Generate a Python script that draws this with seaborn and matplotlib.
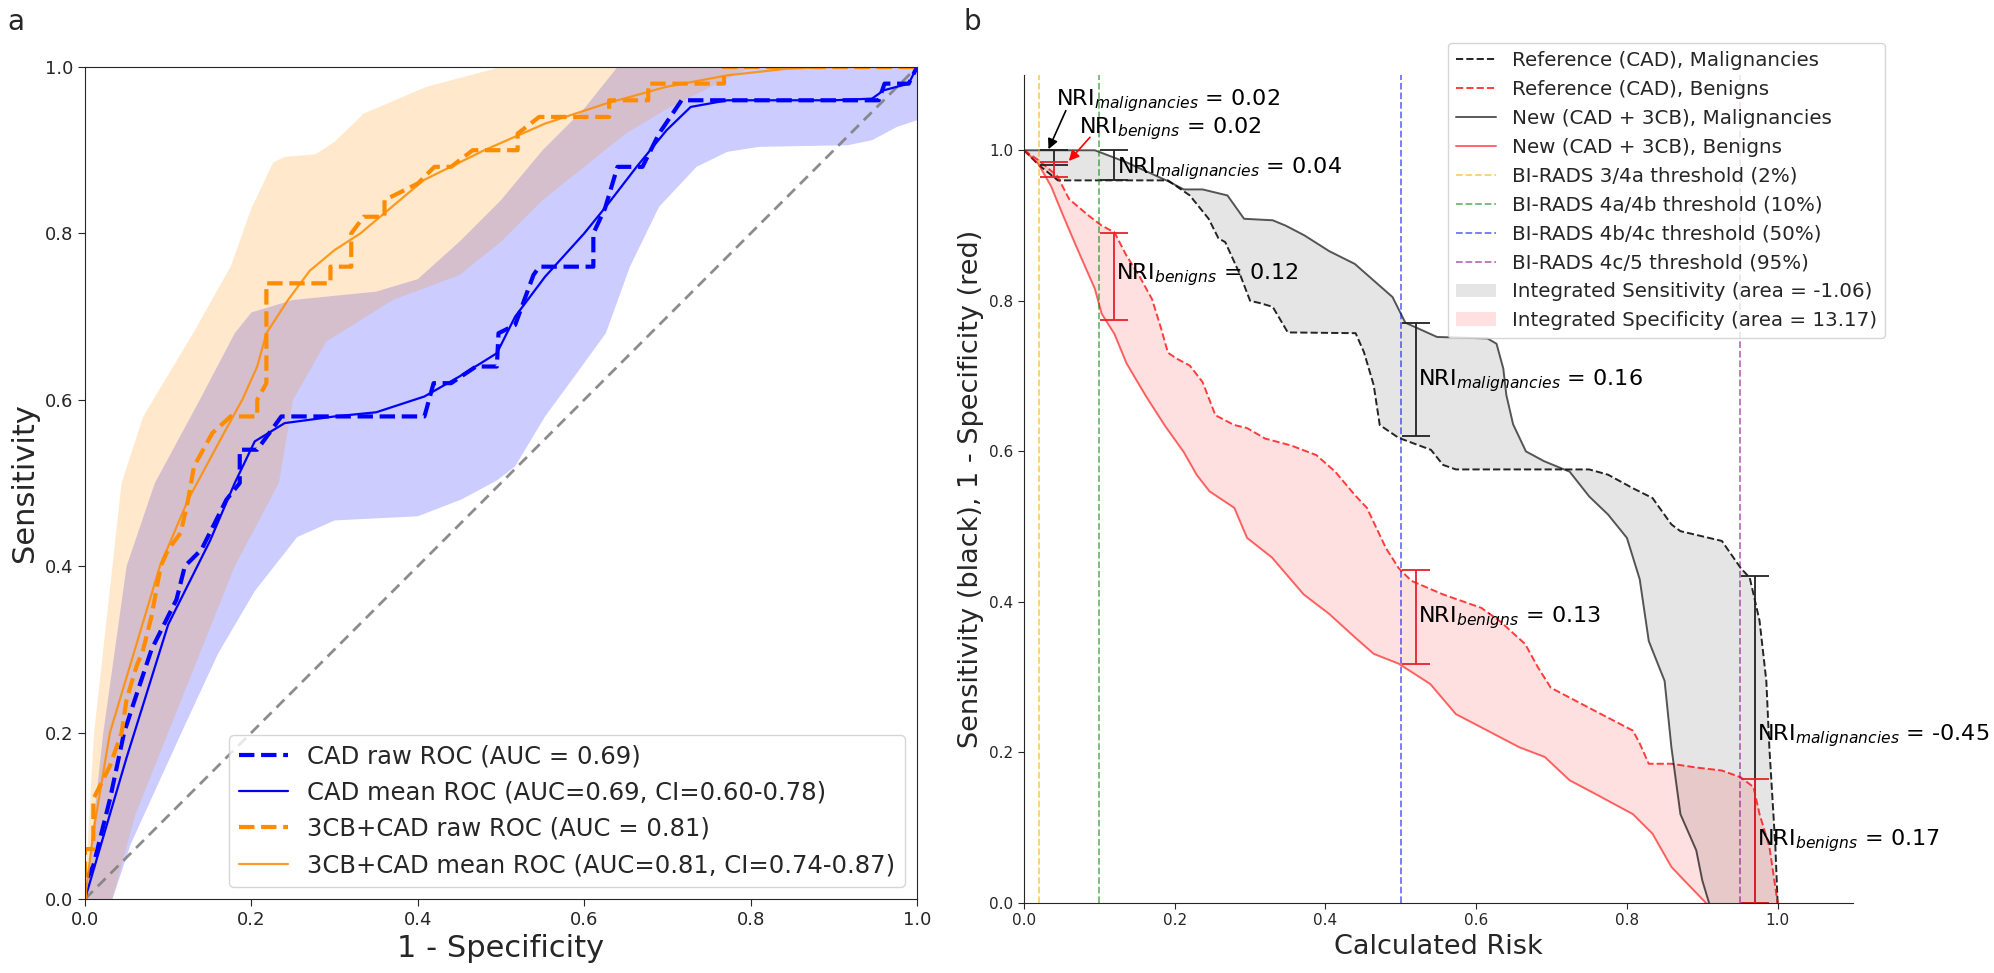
import numpy as np
import matplotlib
matplotlib.use("Agg")
import matplotlib.pyplot as plt
import seaborn as sns

# ---------------- Panel a data (FPR, TPR) ----------------
cad_raw = [(0, 0), (0, 0.02), (0.01, 0.04), (0.02, 0.08), (0.03, 0.12), (0.047, 0.2), (0.06, 0.24),
           (0.08, 0.3), (0.09, 0.32), (0.11, 0.36), (0.12, 0.4), (0.14, 0.42), (0.15, 0.44),
           (0.17, 0.48), (0.186, 0.5), (0.186, 0.54), (0.207, 0.54), (0.236, 0.58), (0.408, 0.58),
           (0.419, 0.62), (0.44, 0.62), (0.47, 0.64), (0.495, 0.64), (0.497, 0.68), (0.517, 0.69),
           (0.539, 0.75), (0.546, 0.76), (0.611, 0.76), (0.611, 0.80), (0.625, 0.83), (0.64, 0.88),
           (0.67, 0.88), (0.69, 0.92), (0.717, 0.96), (0.954, 0.96), (0.961, 0.98), (0.99, 0.98),
           (1.0, 1.0)]
cad_mean = [(0, 0), (0.05, 0.17), (0.1, 0.33), (0.15, 0.43), (0.18, 0.5), (0.204, 0.55), (0.24, 0.572),
            (0.3, 0.58), (0.35, 0.585), (0.408, 0.604), (0.45, 0.628), (0.495, 0.656), (0.517, 0.70),
            (0.553, 0.748), (0.6, 0.80), (0.626, 0.832), (0.663, 0.88), (0.699, 0.924), (0.728, 0.952),
            (0.772, 0.96), (0.9, 0.96), (0.946, 0.962), (0.96, 0.972), (0.99, 0.98), (1.0, 1.0)]
cad_upper = [(0, 0), (0.011, 0.1), (0.022, 0.2), (0.05, 0.4), (0.084, 0.5), (0.138, 0.6), (0.18, 0.68),
             (0.2, 0.705), (0.25, 0.72), (0.35, 0.73), (0.4, 0.745), (0.45, 0.79), (0.5, 0.84),
             (0.55, 0.9), (0.6, 0.95), (0.64, 1.0), (1.0, 1.0)]
cad_lower = [(0.033, 0), (0.055, 0.066), (0.116, 0.2), (0.16, 0.295), (0.204, 0.37), (0.255, 0.435),
             (0.3, 0.455), (0.4, 0.46), (0.452, 0.48), (0.495, 0.503), (0.517, 0.52), (0.553, 0.58),
             (0.597, 0.64), (0.626, 0.68), (0.655, 0.76), (0.69, 0.832), (0.735, 0.88), (0.772, 0.898),
             (0.81, 0.904), (0.917, 0.906), (0.946, 0.912), (0.976, 0.928), (1.0, 0.936)]

cb_raw = [(0, 0), (0, 0.06), (0.01, 0.06), (0.01, 0.12), (0.02, 0.14), (0.03, 0.16), (0.044, 0.2),
          (0.05, 0.24), (0.062, 0.28), (0.07, 0.3), (0.08, 0.34), (0.091, 0.4), (0.1, 0.42),
          (0.115, 0.44), (0.124, 0.48), (0.131, 0.52), (0.153, 0.56), (0.175, 0.58), (0.207, 0.58),
          (0.207, 0.6), (0.218, 0.62), (0.218, 0.74), (0.295, 0.74), (0.295, 0.76), (0.32, 0.76),
          (0.32, 0.8), (0.335, 0.82), (0.36, 0.82), (0.36, 0.84), (0.4, 0.86), (0.42, 0.88),
          (0.44, 0.88), (0.466, 0.9), (0.52, 0.9), (0.52, 0.92), (0.546, 0.94), (0.63, 0.94),
          (0.63, 0.96), (0.677, 0.96), (0.677, 0.98), (0.768, 0.98), (0.768, 1.0), (1.0, 1.0)]
cb_mean = [(0, 0), (0.01, 0.08), (0.03, 0.2), (0.06, 0.3), (0.09, 0.4), (0.124, 0.48), (0.167, 0.56),
           (0.189, 0.6), (0.207, 0.64), (0.218, 0.68), (0.244, 0.72), (0.27, 0.755), (0.3, 0.78),
           (0.331, 0.8), (0.407, 0.864), (0.48, 0.9), (0.553, 0.932), (0.626, 0.956), (0.698, 0.976),
           (0.772, 0.99), (0.844, 0.998), (0.9, 1.0), (1.0, 1.0)]
cb_upper = [(0, 0), (0.005, 0.1), (0.011, 0.2), (0.022, 0.3), (0.033, 0.4), (0.044, 0.5), (0.07, 0.58),
            (0.1, 0.63), (0.13, 0.68), (0.175, 0.76), (0.2, 0.83), (0.226, 0.885), (0.24, 0.892),
            (0.277, 0.895), (0.3, 0.91), (0.335, 0.944), (0.41, 0.976), (0.5, 1.0), (1.0, 1.0)]
cb_lower = [(0.033, 0), (0.06, 0.1), (0.1, 0.2), (0.14, 0.3), (0.18, 0.4), (0.233, 0.5), (0.25, 0.6),
            (0.29, 0.67), (0.37, 0.72), (0.45, 0.75), (0.5, 0.79), (0.55, 0.84), (0.6, 0.88),
            (0.65, 0.92), (0.7, 0.95), (0.75, 0.975), (0.8, 1.0), (1.0, 1.0)]

roc_labels = ["CAD raw ROC (AUC = 0.69)", "CAD mean ROC (AUC=0.69, CI=0.60-0.78)",
              "3CB+CAD raw ROC (AUC = 0.81)", "3CB+CAD mean ROC (AUC=0.81, CI=0.74-0.87)"]

# ---------------- Panel b data (risk, value) ----------------
ref_mal = [(0, 1.0), (0.02, 0.98), (0.045, 0.96), (0.191, 0.96), (0.22, 0.94), (0.245, 0.909),
           (0.258, 0.883), (0.267, 0.878), (0.287, 0.834), (0.3, 0.8), (0.313, 0.797), (0.33, 0.792),
           (0.35, 0.758), (0.44, 0.757), (0.451, 0.732), (0.464, 0.688), (0.472, 0.635), (0.497, 0.618),
           (0.54, 0.602), (0.556, 0.582), (0.573, 0.576), (0.75, 0.576), (0.775, 0.569), (0.808, 0.551),
           (0.834, 0.538), (0.859, 0.503), (0.871, 0.494), (0.926, 0.481), (0.951, 0.445),
           (0.963, 0.432), (0.976, 0.375), (0.985, 0.295), (0.989, 0.207), (0.997, 0.075), (1.0, 0.0)]
new_mal = [(0, 1.0), (0.094, 1.0), (0.136, 0.984), (0.191, 0.959), (0.212, 0.948), (0.237, 0.948),
           (0.27, 0.94), (0.292, 0.909), (0.33, 0.907), (0.347, 0.9), (0.372, 0.887), (0.405, 0.866),
           (0.439, 0.849), (0.464, 0.827), (0.489, 0.805), (0.506, 0.771), (0.548, 0.752), (0.615, 0.75),
           (0.627, 0.743), (0.636, 0.71), (0.64, 0.675), (0.649, 0.636), (0.666, 0.60), (0.69, 0.587),
           (0.724, 0.573), (0.75, 0.54), (0.775, 0.516), (0.8, 0.485), (0.817, 0.43), (0.829, 0.348),
           (0.85, 0.295), (0.859, 0.207), (0.871, 0.118), (0.892, 0.07), (0.9, 0.03), (0.909, 0.0)]
ref_ben = [(0, 1.0), (0.019, 0.987), (0.044, 0.966), (0.06, 0.935), (0.086, 0.913), (0.103, 0.9),
           (0.12, 0.891), (0.136, 0.86), (0.153, 0.833), (0.17, 0.802), (0.182, 0.763), (0.191, 0.731),
           (0.203, 0.723), (0.22, 0.714), (0.237, 0.692), (0.254, 0.648), (0.279, 0.635), (0.296, 0.631),
           (0.32, 0.617), (0.354, 0.608), (0.388, 0.595), (0.413, 0.573), (0.439, 0.542), (0.455, 0.525),
           (0.48, 0.472), (0.497, 0.445), (0.514, 0.428), (0.556, 0.41), (0.607, 0.392), (0.632, 0.374),
           (0.665, 0.344), (0.682, 0.313), (0.699, 0.286), (0.758, 0.255), (0.808, 0.229), (0.817, 0.212),
           (0.829, 0.185), (0.859, 0.185), (0.892, 0.18), (0.926, 0.176), (0.951, 0.167), (0.968, 0.154),
           (0.976, 0.118), (0.989, 0.075), (1.0, 0.0)]
new_ben = [(0, 1.0), (0.019, 0.982), (0.036, 0.952), (0.052, 0.913), (0.069, 0.873), (0.094, 0.816),
           (0.103, 0.783), (0.12, 0.756), (0.136, 0.717), (0.162, 0.673), (0.187, 0.634), (0.212, 0.599),
           (0.229, 0.569), (0.246, 0.547), (0.279, 0.525), (0.296, 0.485), (0.329, 0.459), (0.371, 0.41),
           (0.405, 0.384), (0.439, 0.353), (0.464, 0.331), (0.497, 0.318), (0.539, 0.291), (0.573, 0.251),
           (0.615, 0.229), (0.657, 0.207), (0.691, 0.194), (0.724, 0.163), (0.758, 0.145), (0.808, 0.118),
           (0.834, 0.092), (0.859, 0.048), (0.876, 0.03), (0.905, 0.0)]

thresholds = [0.02, 0.10, 0.50, 0.95]
threshold_colors = ["orange", "green", "blue", "purple"]
threshold_labels = ["BI-RADS 3/4a threshold (2%)", "BI-RADS 4a/4b threshold (10%)",
                    "BI-RADS 4b/4c threshold (50%)", "BI-RADS 4c/5 threshold (95%)"]
curve_labels = ["Reference (CAD), Malignancies", "Reference (CAD), Benigns",
                "New (CAD + 3CB), Malignancies", "New (CAD + 3CB), Benigns"]
area_labels = ["Integrated Sensitivity (area = -1.06)", "Integrated Specificity (area = 13.17)"]

# NRI bars: x position, (low, high)
nri_x = [0.04, 0.12, 0.52, 0.97]
nri_mal_low = [0.98, 0.96, 0.62, 0.0]
nri_mal_high = [1.0, 1.0, 0.77, 0.435]
nri_ben_low = [0.965, 0.775, 0.318, 0.0]
nri_ben_high = [0.985, 0.89, 0.442, 0.165]
nri_texts = [r"NRI$_{malignancies}$ = 0.02", r"NRI$_{benigns}$ = 0.02",
             r"NRI$_{malignancies}$ = 0.04", r"NRI$_{benigns}$ = 0.12",
             r"NRI$_{malignancies}$ = 0.16", r"NRI$_{benigns}$ = 0.13",
             r"NRI$_{malignancies}$ = -0.45", r"NRI$_{benigns}$ = 0.17"]
nri_text_pos = [(0.042, 1.06), (0.073, 1.022), (0.124, 0.969), (0.122, 0.828),
                (0.523, 0.688), (0.523, 0.373), (0.972, 0.216), (0.972, 0.077)]


def xy(pairs):
    a = np.array(pairs, dtype=float)
    return a[:, 0], a[:, 1]


sns.set_style("ticks")
plt.rcParams["font.family"] = ["DejaVu Sans"]
plt.rcParams["mathtext.fontset"] = "dejavusans"

W, H = 1994, 973
fig = plt.figure(figsize=(W / 100, H / 100), dpi=100)
ax1 = fig.add_axes([85 / W, 1 - 899 / H, 832 / W, 832 / H])
ax2 = fig.add_axes([1024 / W, 1 - 903 / H, 829 / W, 828 / H])

# ---------------- Panel a ----------------
for up, lo, col in [(cad_upper, cad_lower, "blue"), (cb_upper, cb_lower, "darkorange")]:
    ux, uy = xy(up)
    lx, ly = xy(lo)
    ax1.fill(np.concatenate([ux, lx[::-1]]), np.concatenate([uy, ly[::-1]]),
             color=col, alpha=0.2, lw=0)

ax1.plot([0, 1], [0, 1], ls=(0, (4, 2.5)), color="gray", lw=2, alpha=0.9)

x, y = xy(cad_raw)
sns.lineplot(x=x, y=y, sort=False, estimator=None, ax=ax1, color="blue", lw=3,
             linestyle="--", label=roc_labels[0])
x, y = xy(cad_mean)
sns.lineplot(x=x, y=y, sort=False, estimator=None, ax=ax1, color="blue", lw=1.6,
             label=roc_labels[1])
x, y = xy(cb_raw)
sns.lineplot(x=x, y=y, sort=False, estimator=None, ax=ax1, color="#ff8c00", lw=3,
             linestyle="--", label=roc_labels[2])
x, y = xy(cb_mean)
sns.lineplot(x=x, y=y, sort=False, estimator=None, ax=ax1, color="#ff8c00", lw=1.6, alpha=0.85,
             label=roc_labels[3])

ax1.set_xlim(0, 1)
ax1.set_ylim(0, 1)
ax1.set_xticks(np.arange(0, 1.01, 0.2))
ax1.set_yticks(np.arange(0, 1.01, 0.2))
ax1.tick_params(labelsize=13, length=5)
ax1.set_xlabel("1 - Specificity", fontsize=22)
ax1.set_ylabel("Sensitivity", fontsize=22)
ax1.legend(loc="lower right", fontsize=17.5, labelspacing=0.5, frameon=True,
           framealpha=0.8, edgecolor="0.8", fancybox=True)

# ---------------- Panel b ----------------
rmx, rmy = xy(ref_mal)
nmx, nmy = xy(new_mal)
rbx, rby = xy(ref_ben)
nbx, nby = xy(new_ben)

sns.lineplot(x=rmx, y=rmy, sort=False, estimator=None, ax=ax2, color="black", lw=1.4,
             linestyle="--", alpha=0.85, label=curve_labels[0])
sns.lineplot(x=rbx, y=rby, sort=False, estimator=None, ax=ax2, color="red", lw=1.4,
             linestyle="--", alpha=0.75, label=curve_labels[1])
sns.lineplot(x=nmx, y=nmy, sort=False, estimator=None, ax=ax2, color="black", lw=1.4,
             alpha=0.65, label=curve_labels[2])
sns.lineplot(x=nbx, y=nby, sort=False, estimator=None, ax=ax2, color="red", lw=1.4,
             alpha=0.6, label=curve_labels[3])

for t, c, lab in zip(thresholds, threshold_colors, threshold_labels):
    ax2.axvline(t, color=c, ls="--", lw=1.3, alpha=0.55, label=lab)

ax2.fill(np.concatenate([rmx, nmx[::-1]]), np.concatenate([rmy, nmy[::-1]]),
         color="gray", alpha=0.2, lw=0, label=area_labels[0])
ax2.fill(np.concatenate([rbx, nbx[::-1]]), np.concatenate([rby, nby[::-1]]),
         color="red", alpha=0.12, lw=0, label=area_labels[1])

lo = np.array(nri_mal_low); hi = np.array(nri_mal_high)
ax2.errorbar(nri_x, (lo + hi) / 2, yerr=(hi - lo) / 2, fmt="none", ecolor="#222222",
             elinewidth=1.3, capsize=10, capthick=1.3)
lo = np.array(nri_ben_low); hi = np.array(nri_ben_high)
ax2.errorbar(nri_x, (lo + hi) / 2, yerr=(hi - lo) / 2, fmt="none", ecolor="#e8202a",
             elinewidth=1.3, capsize=10, capthick=1.3)

for txt, (tx, ty) in zip(nri_texts, nri_text_pos):
    ax2.text(tx, ty, txt, fontsize=16, va="baseline", ha="left", color="black")

ax2.annotate("", xy=(0.031, 0.998), xytext=(0.057, 1.056),
             arrowprops=dict(arrowstyle="-|>", color="black", lw=1.2, mutation_scale=15))
ax2.annotate("", xy=(0.057, 0.983), xytext=(0.09, 1.02),
             arrowprops=dict(arrowstyle="-|>", color="red", lw=1.2, mutation_scale=15))

ax2.set_xlim(0, 1.1)
ax2.set_ylim(0, 1.1)
ax2.set_xticks(np.arange(0, 1.01, 0.2))
ax2.set_yticks(np.arange(0, 1.01, 0.2))
ax2.tick_params(labelsize=11, length=4)
sns.despine(ax=ax2)
ax2.set_xlabel("Calculated Risk", fontsize=19.5)
ax2.set_ylabel("Sensitivity (black), 1 - Specificity (red)", fontsize=19.5)
ax2.legend(loc="upper right", bbox_to_anchor=(1.0386, 1.0386), borderaxespad=0,
           fontsize=14.3, labelspacing=0.5, frameon=True, framealpha=0.8,
           edgecolor="0.8", fancybox=True)

fig.text(7 / W, 1 - 22 / H, "a", fontsize=20, va="center", ha="left")
fig.text(963 / W, 1 - 22 / H, "b", fontsize=20, va="center", ha="left")

fig.savefig("out.png", dpi=100)
